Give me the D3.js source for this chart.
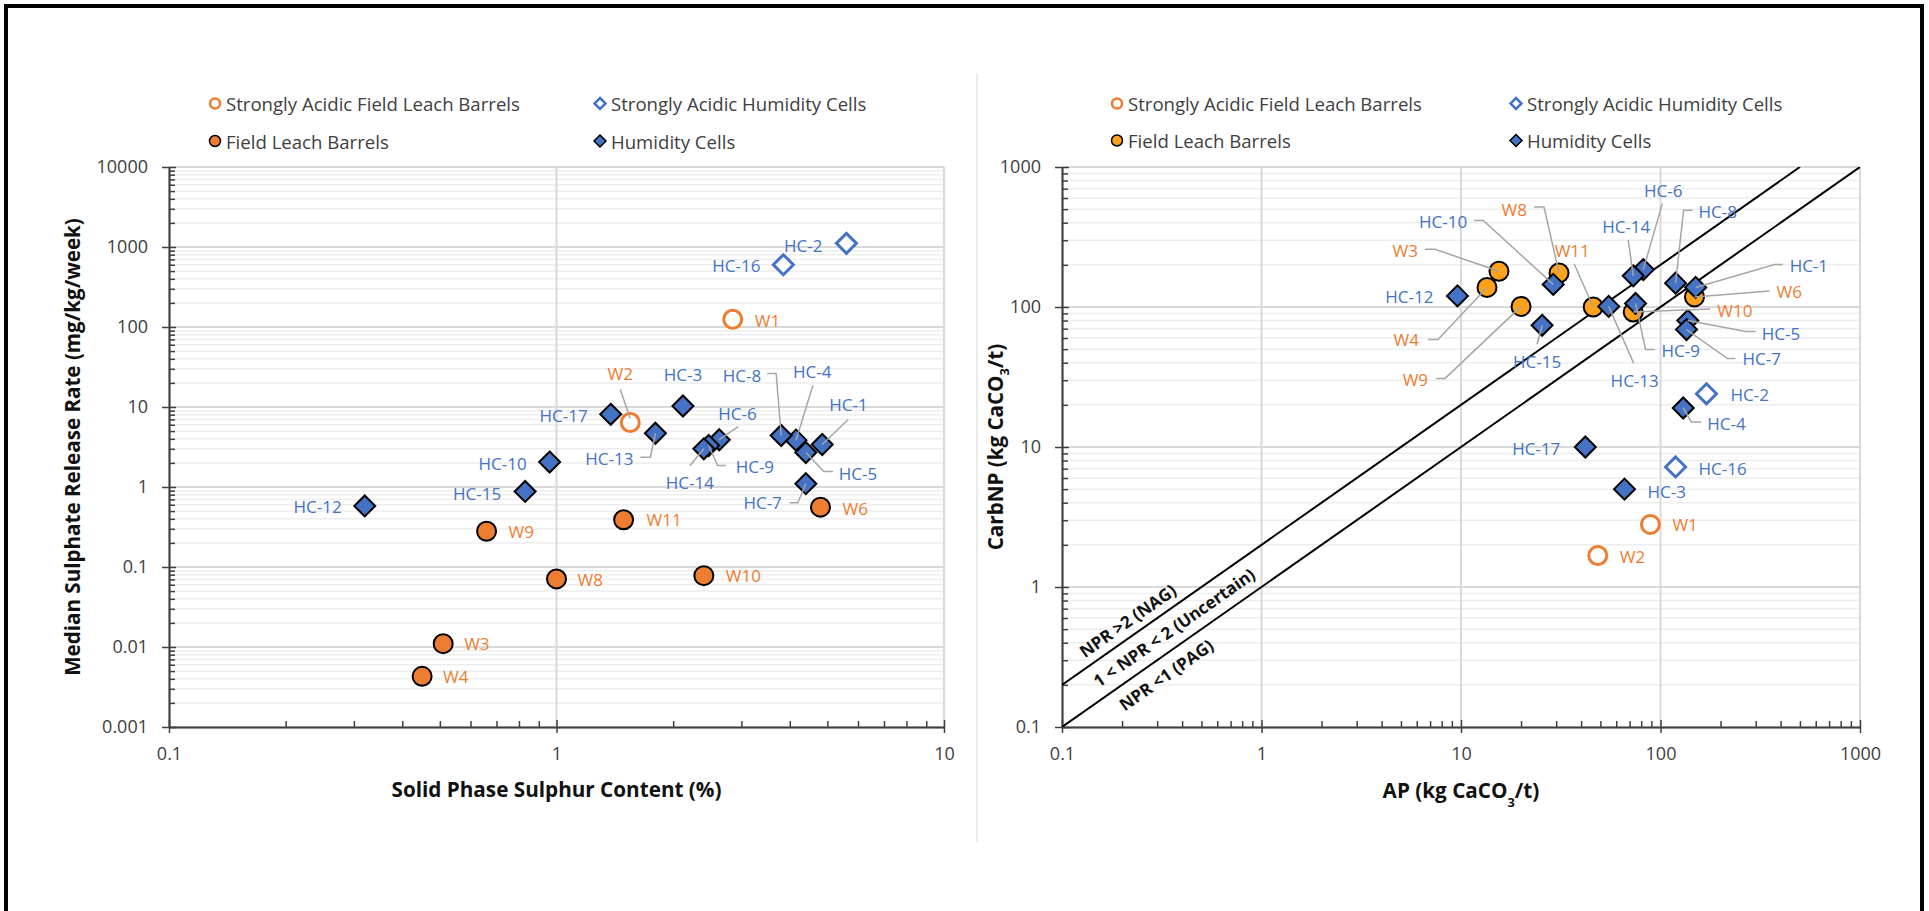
<!DOCTYPE html>
<html><head><meta charset="utf-8">
<script src="https://cdn.jsdelivr.net/npm/d3@7"></script>
<style>html,body{margin:0;padding:0;background:#fff;} svg{display:block;}</style>
</head><body>
<svg id="chart" width="1929" height="911"></svg>
<script>
// ================= DATA =================
const legendLabels = ["Strongly Acidic Field Leach Barrels", "Strongly Acidic Humidity Cells", "Field Leach Barrels", "Humidity Cells"];

// ---- Left chart: Solid Phase Sulphur Content (%) vs Median Sulphate Release Rate (mg/kg/week)
const leftSAFLB_names = ["W1", "W2"];
const leftSAFLB_x = [2.85, 1.55];
const leftSAFLB_y = [125, 6.4];

const leftSAHC_names = ["HC-2", "HC-16"];
const leftSAHC_x = [5.6, 3.85];
const leftSAHC_y = [1110, 600];

const leftFLB_names = ["W3", "W4", "W6", "W8", "W9", "W10", "W11"];
const leftFLB_x = [0.51, 0.45, 4.8, 1.0, 0.66, 2.4, 1.49];
const leftFLB_y = [0.011, 0.0043, 0.56, 0.071, 0.28, 0.078, 0.39];

const leftHC_names = ["HC-1", "HC-3", "HC-4", "HC-5", "HC-6", "HC-7", "HC-8", "HC-9", "HC-10", "HC-12", "HC-13", "HC-14", "HC-15", "HC-17"];
const leftHC_x = [4.85, 2.12, 4.15, 4.4, 2.63, 4.4, 3.8, 2.47, 0.96, 0.32, 1.8, 2.4, 0.83, 1.38];
const leftHC_y = [3.4, 10.3, 3.85, 2.7, 3.9, 1.1, 4.4, 3.3, 2.05, 0.58, 4.7, 3.0, 0.88, 8.1];

const leftXTicks = [0.1, 1, 10];
const leftXTickLabels = ["0.1", "1", "10"];
const leftYTicks = [0.001, 0.01, 0.1, 1, 10, 100, 1000, 10000];
const leftYTickLabels = ["0.001", "0.01", "0.1", "1", "10", "100", "1000", "10000"];

// ---- Right chart: AP vs CarbNP (kg CaCO3/t)
const rightSAFLB_names = ["W1", "W2"];
const rightSAFLB_x = [89, 48.5];
const rightSAFLB_y = [2.8, 1.68];

const rightSAHC_names = ["HC-2", "HC-16"];
const rightSAHC_x = [170, 119];
const rightSAHC_y = [24, 7.2];

const rightFLB_names = ["W3", "W4", "W6", "W8", "W9", "W10", "W11"];
const rightFLB_x = [15.5, 13.5, 148, 31, 20, 73, 46];
const rightFLB_y = [180, 138, 118, 175, 101, 92, 100];

const rightHC_names = ["HC-1", "HC-3", "HC-4", "HC-5", "HC-6", "HC-7", "HC-8", "HC-9", "HC-10", "HC-12", "HC-13", "HC-14", "HC-15", "HC-17"];
const rightHC_x = [150, 66, 130, 137, 82, 135, 119, 75, 29, 9.6, 55, 73, 25.5, 42];
const rightHC_y = [138, 5, 19, 80, 185, 69, 148, 106, 145, 120, 101, 167, 74, 10];

const rightXTicks = [0.1, 1, 10, 100, 1000];
const rightXTickLabels = ["0.1", "1", "10", "100", "1000"];
const rightYTicks = [0.1, 1, 10, 100, 1000];
const rightYTickLabels = ["0.1", "1", "10", "100", "1000"];

// NPR reference lines (CarbNP = ratio * AP)
const nprRatios = [1, 2];
const nprLabels = ["NPR >2 (NAG)", "1 < NPR < 2 (Uncertain)", "NPR <1 (PAG)"];

// ================= LAYOUT / STYLE =================
const FONT = "'Open Sans', 'Segoe UI', 'Noto Sans', sans-serif";
const ORANGE = "#ED7D31", ORANGE2 = "#FFA21A", BLUE = "#4472C4";
const TXT = "#404040";

// label placement (pixel offsets from marker centre)
const leftLabelLayout = {
  "W1": {a: "start", dx: 22, dy: 1},
  "W2": {a: "middle", dx: -10, dy: -49, leader: [[-10, -33], [0, -4]]},
  "W3": {a: "start", dx: 21, dy: 0},
  "W4": {a: "start", dx: 21, dy: 0},
  "W6": {a: "start", dx: 22, dy: 1},
  "W8": {a: "start", dx: 21, dy: 1},
  "W9": {a: "start", dx: 22, dy: 0},
  "W10": {a: "start", dx: 22, dy: 0},
  "W11": {a: "start", dx: 23, dy: 0},
  "HC-2": {a: "end", dx: -24, dy: 2},
  "HC-16": {a: "end", dx: -23, dy: 1},
  "HC-1": {a: "start", dx: 7, dy: -40, leader: [[26, -25], [0, 0]]},
  "HC-3": {a: "middle", dx: 0, dy: -31},
  "HC-4": {a: "start", dx: -3, dy: -69, leader: [[17, -55], [0, 0]]},
  "HC-5": {a: "start", dx: 33, dy: 21, leader: [[27, 19], [18, 19], [0, 0]]},
  "HC-6": {a: "start", dx: -1, dy: -26, leader: [[19, -13], [0, 0]]},
  "HC-7": {a: "end", dx: -24, dy: 19, leader: [[-16, 19], [-8, 19], [0, 0]]},
  "HC-8": {a: "end", dx: -20, dy: -60, leader: [[-14, -62], [-5, -62], [0, 0]]},
  "HC-9": {a: "start", dx: 27, dy: 21, leader: [[17, 20], [9, 20], [0, 0]]},
  "HC-10": {a: "end", dx: -23, dy: 1},
  "HC-12": {a: "end", dx: -23, dy: 1},
  "HC-13": {a: "end", dx: -22, dy: 25, leader: [[-15, 24], [-5, 24], [0, 0]]},
  "HC-14": {a: "middle", dx: -14, dy: 34, leader: [[-14, 17], [0, 0]]},
  "HC-15": {a: "end", dx: -24, dy: 2},
  "HC-17": {a: "end", dx: -23, dy: 1}
};
const rightLabelLayout = {
  "W1": {a: "start", dx: 22, dy: 0},
  "W2": {a: "start", dx: 22, dy: 1},
  "W3": {a: "end", dx: -81, dy: -21, leader: [[-74, -22], [-64, -22], [0, 0]]},
  "W4": {a: "end", dx: -68, dy: 52, leader: [[-59, 52], [-49, 52], [0, 0]]},
  "W6": {a: "start", dx: 82, dy: -5, leader: [[75, -6], [0, 0]]},
  "W8": {a: "end", dx: -32, dy: -63, leader: [[-25, -66], [-15, -66], [0, 0]]},
  "W9": {a: "end", dx: -93, dy: 73, leader: [[-85, 72], [-76, 72], [0, 0]]},
  "W10": {a: "start", dx: 84, dy: -2, leader: [[77, -3], [0, 0]]},
  "W11": {a: "middle", dx: -21, dy: -57, leader: [[-19, -43], [0, 0]]},
  "HC-2": {a: "start", dx: 24, dy: 1},
  "HC-16": {a: "start", dx: 23, dy: 2},
  "HC-1": {a: "start", dx: 94, dy: -22, leader: [[87, -23], [79, -23], [0, 0]]},
  "HC-3": {a: "start", dx: 23, dy: 2},
  "HC-4": {a: "start", dx: 24, dy: 16, leader: [[18, 14], [8, 14], [0, 0]]},
  "HC-5": {a: "start", dx: 74, dy: 13, leader: [[68, 11], [58, 11], [0, 0]]},
  "HC-6": {a: "middle", dx: 20, dy: -79, leader: [[19, -66], [0, 0]]},
  "HC-7": {a: "start", dx: 56, dy: 29, leader: [[49, 29], [41, 29], [0, 0]]},
  "HC-8": {a: "start", dx: 23, dy: -72, leader: [[17, -73], [8, -73], [0, 0]]},
  "HC-9": {a: "start", dx: 26, dy: 47, leader: [[19, 46], [10, 46], [0, 0]]},
  "HC-10": {a: "end", dx: -86, dy: -63, leader: [[-79, -64], [-70, -64], [0, 0]]},
  "HC-12": {a: "end", dx: -24, dy: 1},
  "HC-13": {a: "middle", dx: 26, dy: 74, leader: [[25, 57], [0, 0]]},
  "HC-14": {a: "middle", dx: -7, dy: -49, leader: [[-5, -36], [0, 0]]},
  "HC-15": {a: "middle", dx: -5, dy: 36, leader: [[-5, 19], [0, 0]]},
  "HC-17": {a: "end", dx: -25, dy: 1}
};

// ================= DRAWING =================
const svg = d3.select("#chart");
svg.append("rect").attr("width", 1929).attr("height", 911).attr("fill", "#fff");
// outer frame (bottom edge lies outside the picture)
svg.append("rect").attr("x", 6).attr("y", 6).attr("width", 1916).attr("height", 1000)
  .attr("fill", "none").attr("stroke", "#000").attr("stroke-width", 4);
// divider
svg.append("line").attr("x1", 977).attr("x2", 977).attr("y1", 73).attr("y2", 842)
  .attr("stroke", "#e4e4e4").attr("stroke-width", 1.5);

function minorValues(domain) {
  const out = [];
  const e0 = Math.round(Math.log10(domain[0])), e1 = Math.round(Math.log10(domain[1]));
  for (let e = e0; e < e1; e++) for (let k = 2; k <= 9; k++) out.push(k * Math.pow(10, e));
  return out;
}

const diamondPath = (r) => `M0,${-r}L${r},0L0,${r}L${-r},0Z`;

function addText(sel, parts) {
  parts.forEach(p => {
    const t = sel.append("tspan").text(p.t);
    if (p.sub) t.attr("font-size", "0.62em").attr("baseline-shift", "sub");
  });
}

function panel(o) {
  const g = svg.append("g");
  const x = d3.scaleLog().domain(o.xDomain).range([o.left, o.right]);
  const y = d3.scaleLog().domain(o.yDomain).range([o.bottom, o.top]);

  // gridlines
  g.append("g").selectAll("line").data(minorValues(o.yDomain)).join("line")
    .attr("x1", o.left).attr("x2", o.right).attr("y1", d => y(d)).attr("y2", d => y(d))
    .attr("stroke", "#ededed").attr("stroke-width", 1.5);
  g.append("g").selectAll("line").data(o.yTicks.slice(1)).join("line")
    .attr("x1", o.left).attr("x2", o.right).attr("y1", d => y(d)).attr("y2", d => y(d))
    .attr("stroke", "#d9d9d9").attr("stroke-width", 2);
  g.append("g").selectAll("line").data(o.xTicks.slice(1)).join("line")
    .attr("x1", d => x(d)).attr("x2", d => x(d)).attr("y1", o.top).attr("y2", o.bottom)
    .attr("stroke", "#d9d9d9").attr("stroke-width", 2);

  // axes
  const styleAxis = (a) => {
    a.select(".domain").attr("stroke", "#404040").attr("stroke-width", 1.5);
    a.selectAll(".tick line").attr("stroke", "#404040").attr("stroke-width", 1.5);
    a.selectAll(".tick text").attr("fill", TXT).attr("font-size", 18).attr("font-family", FONT);
  };
  const xa = g.append("g").attr("transform", `translate(0,${o.bottom})`)
    .call(d3.axisBottom(x).tickValues(o.xTicks).tickFormat((d, i) => o.xTickLabels[i]).tickSize(6).tickSizeOuter(0).tickPadding(14));
  styleAxis(xa);
  const xin = g.append("g").attr("transform", `translate(0,${o.bottom})`)
    .call(d3.axisTop(x).tickValues(minorValues(o.xDomain)).tickFormat("").tickSize(6).tickSizeOuter(0));
  styleAxis(xin);
  const xin2 = g.append("g").attr("transform", `translate(0,${o.bottom})`)
    .call(d3.axisTop(x).tickValues(o.xTicks).tickFormat("").tickSize(7).tickSizeOuter(0));
  styleAxis(xin2);

  const ya = g.append("g").attr("transform", `translate(${o.left},0)`)
    .call(d3.axisLeft(y).tickValues(o.yTicks).tickFormat((d, i) => o.yTickLabels[i]).tickSize(7).tickSizeOuter(0).tickPadding(14));
  styleAxis(ya);
  const yin = g.append("g").attr("transform", `translate(${o.left},0)`)
    .call(d3.axisRight(y).tickValues(minorValues(o.yDomain)).tickFormat("").tickSize(6).tickSizeOuter(0));
  styleAxis(yin);
  const yin2 = g.append("g").attr("transform", `translate(${o.left},0)`)
    .call(d3.axisRight(y).tickValues(o.yTicks).tickFormat("").tickSize(7).tickSizeOuter(0));
  styleAxis(yin2);

  // axis titles
  const xt = g.append("text").attr("x", (o.left + o.right) / 2).attr("y", o.xTitleY)
    .attr("text-anchor", "middle").attr("font-family", FONT).attr("font-weight", 700)
    .attr("font-size", 20.7).attr("fill", "#111");
  addText(xt, o.xTitle);
  const yt = g.append("text").attr("transform", `translate(${o.yTitleX},${(o.top + o.bottom) / 2}) rotate(-90)`)
    .attr("text-anchor", "middle").attr("dominant-baseline", "central").attr("font-family", FONT).attr("font-weight", 700)
    .attr("font-size", 20.6).attr("fill", "#111");
  addText(yt, o.yTitle);

  if (o.extra) o.extra(g, x, y);

  // markers
  const mk = g.append("g");
  mk.selectAll(".flb").data(o.flb.names.map((n, i) => [o.flb.x[i], o.flb.y[i]])).join("circle")
    .attr("cx", d => x(d[0])).attr("cy", d => y(d[1])).attr("r", 9.5)
    .attr("fill", o.flbColor).attr("stroke", "#000").attr("stroke-width", 2);
  mk.selectAll(".saflb").data(o.saflb.names.map((n, i) => [o.saflb.x[i], o.saflb.y[i]])).join("circle")
    .attr("cx", d => x(d[0])).attr("cy", d => y(d[1])).attr("r", 9)
    .attr("fill", "#fff").attr("stroke", ORANGE).attr("stroke-width", 3);
  mk.selectAll(".hc").data(o.hc.names.map((n, i) => [o.hc.x[i], o.hc.y[i]])).join("path")
    .attr("transform", d => `translate(${x(d[0])},${y(d[1])})`).attr("d", diamondPath(10.5))
    .attr("fill", BLUE).attr("stroke", "#000").attr("stroke-width", 2);
  mk.selectAll(".sahc").data(o.sahc.names.map((n, i) => [o.sahc.x[i], o.sahc.y[i]])).join("path")
    .attr("transform", d => `translate(${x(d[0])},${y(d[1])})`).attr("d", diamondPath(10))
    .attr("fill", "#fff").attr("stroke", BLUE).attr("stroke-width", 3);

  // data labels
  const lab = g.append("g");
  const drawLabels = (series, color) => {
    series.names.forEach((n, i) => {
      const px = x(series.x[i]), py = y(series.y[i]);
      const L = o.layout[n];
      if (!L) return;
      if (L.leader) {
        lab.append("polyline").attr("points", L.leader.map(p => [px + p[0], py + p[1]].join(",")).join(" "))
          .attr("fill", "none").attr("stroke", "#a6a6a6").attr("stroke-width", 1.5);
      }
      lab.append("text").attr("x", px + L.dx).attr("y", py + L.dy).attr("text-anchor", L.a)
        .attr("dominant-baseline", "central").attr("font-family", FONT).attr("font-size", 17)
        .attr("fill", color).text(n);
    });
  };
  drawLabels(o.flb, ORANGE); drawLabels(o.saflb, ORANGE);
  drawLabels(o.hc, BLUE); drawLabels(o.sahc, BLUE);

  // legend
  const lg = g.append("g").attr("font-family", FONT).attr("font-size", 18.6).attr("fill", TXT);
  const L = o.legend;
  lg.append("circle").attr("cx", L.c1).attr("cy", L.r1).attr("r", 5).attr("fill", "#fff").attr("stroke", ORANGE).attr("stroke-width", 2.5);
  lg.append("circle").attr("cx", L.c1).attr("cy", L.r2).attr("r", 5.5).attr("fill", o.flbColor).attr("stroke", "#000").attr("stroke-width", 1.5);
  lg.append("path").attr("transform", `translate(${L.c2},${L.r1})`).attr("d", diamondPath(5.5)).attr("fill", "#fff").attr("stroke", BLUE).attr("stroke-width", 2.5);
  lg.append("path").attr("transform", `translate(${L.c2},${L.r2})`).attr("d", diamondPath(6)).attr("fill", BLUE).attr("stroke", "#000").attr("stroke-width", 1.5);
  [[L.c1, L.r1, 0], [L.c2, L.r1, 1], [L.c1, L.r2, 2], [L.c2, L.r2, 3]].forEach(([cx, cy, i]) => {
    lg.append("text").attr("x", cx + 11).attr("y", cy).attr("dominant-baseline", "central").text(legendLabels[i]);
  });
  return {x, y};
}

panel({
  xDomain: [0.1, 10], yDomain: [0.001, 10000],
  left: 169, right: 944, top: 167, bottom: 727,
  xTicks: leftXTicks, xTickLabels: leftXTickLabels, yTicks: leftYTicks, yTickLabels: leftYTickLabels,
  xTitle: [{t: "Solid Phase Sulphur Content (%)"}], yTitle: [{t: "Median Sulphate Release Rate (mg/kg/week)"}],
  xTitleY: 797, yTitleX: 72,
  flb: {names: leftFLB_names, x: leftFLB_x, y: leftFLB_y},
  saflb: {names: leftSAFLB_names, x: leftSAFLB_x, y: leftSAFLB_y},
  hc: {names: leftHC_names, x: leftHC_x, y: leftHC_y},
  sahc: {names: leftSAHC_names, x: leftSAHC_x, y: leftSAHC_y},
  flbColor: ORANGE, layout: leftLabelLayout,
  legend: {c1: 215, c2: 600, r1: 103.5, r2: 141}
});

panel({
  xDomain: [0.1, 1000], yDomain: [0.1, 1000],
  left: 1062, right: 1860, top: 167, bottom: 727,
  xTicks: rightXTicks, xTickLabels: rightXTickLabels, yTicks: rightYTicks, yTickLabels: rightYTickLabels,
  xTitle: [{t: "AP (kg CaCO"}, {t: "3", sub: true}, {t: "/t)"}],
  yTitle: [{t: "CarbNP (kg CaCO"}, {t: "3", sub: true}, {t: "/t)"}],
  xTitleY: 798, yTitleX: 995,
  flb: {names: rightFLB_names, x: rightFLB_x, y: rightFLB_y},
  saflb: {names: rightSAFLB_names, x: rightSAFLB_x, y: rightSAFLB_y},
  hc: {names: rightHC_names, x: rightHC_x, y: rightHC_y},
  sahc: {names: rightSAHC_names, x: rightSAHC_x, y: rightSAHC_y},
  flbColor: ORANGE2, layout: rightLabelLayout,
  legend: {c1: 1117, c2: 1516, r1: 103.5, r2: 140.5},
  extra: (g, x, y) => {
    const [x0, x1] = x.domain(), yMax = y.domain()[1];
    const clipId = "clipR";
    g.append("clipPath").attr("id", clipId).append("rect")
      .attr("x", x.range()[0]).attr("y", y.range()[1]).attr("width", x.range()[1] - x.range()[0]).attr("height", y.range()[0] - y.range()[1]);
    nprRatios.forEach(r => {
      const xe = Math.min(x1, yMax / r);
      g.append("line").attr("clip-path", `url(#${clipId})`)
        .attr("x1", x(x0)).attr("y1", y(x0 * r)).attr("x2", x(xe)).attr("y2", y(xe * r))
        .attr("stroke", "#000").attr("stroke-width", 2);
    });
    const ang = Math.atan2(y(10) - y(1), x(10) - x(1)) * 180 / Math.PI;
    // label anchor: [AP along line, ratio of guide line, perpendicular offset px]
    const place = [[0.2355, 2, -15], [0.364, Math.SQRT2, 0], [0.297, 1, 17]];
    place.forEach((p, i) => {
      const px = x(p[0]), py = y(p[0] * p[1]);
      g.append("text").attr("transform", `translate(${px},${py}) rotate(${ang}) translate(0,${p[2]})`)
        .attr("text-anchor", "middle").attr("dominant-baseline", "central")
        .attr("font-family", FONT).attr("font-weight", 700).attr("font-size", 17).attr("fill", "#111")
        .text(nprLabels[i]);
    });
  }
});
</script>
</body></html>
